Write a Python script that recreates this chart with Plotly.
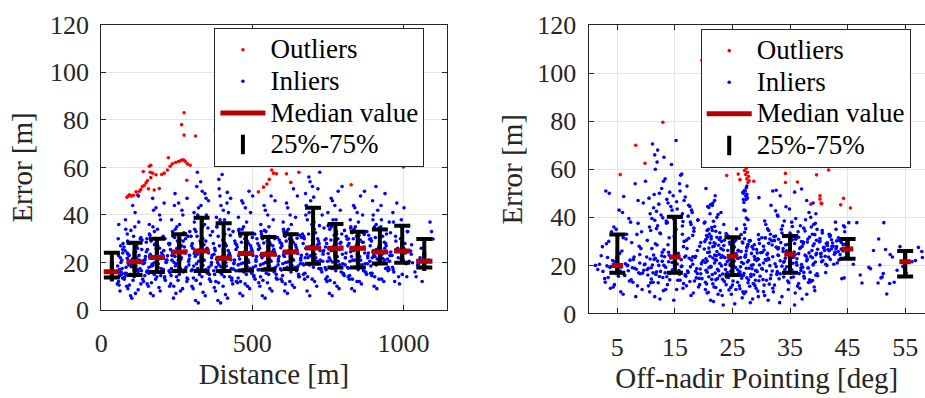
import plotly.graph_objects as go

# ---------------- data: left panel (error vs distance) ----------------
left_in_x = [
    62, 57, 70, 55, 66, 60, 68, 71, 64, 58,
    101, 113, 88, 131, 76, 144, 95, 119, 82, 138, 108, 125, 92, 79, 117, 98, 129, 86, 111, 80, 104, 123,
    172, 195, 156, 212, 184, 150, 206, 167, 189, 217, 161, 178, 200, 153, 187, 165, 202, 176, 159, 193, 181, 170,
    247, 269, 230, 286, 258, 224, 281, 241, 264, 292, 235, 252, 275, 227, 261, 238, 273, 250, 233, 267, 256, 244,
    321, 344, 304, 362, 333, 298, 356, 315, 339, 367, 310, 327, 350, 301, 336, 313, 342, 324, 307, 330, 347, 334, 329, 318,
    395, 418, 378, 435, 407, 372, 430, 389, 412, 441, 384, 401, 424, 375, 410, 387, 422, 398, 381, 404, 416, 393, 389, 400,
    468, 491, 451, 509, 480, 445, 503, 462, 486, 514, 457, 474, 497, 448, 483, 460, 495, 471, 454, 477, 465, 489,
    542, 565, 525, 582, 554, 519, 577, 536, 559, 588, 531, 548, 571, 522, 557, 534, 568, 545, 528, 551, 539, 562,
    616, 639, 599, 656, 628, 593, 651, 610, 633, 662, 605, 622, 645, 596, 631, 608, 642, 619, 602, 625, 613, 636,
    690, 713, 673, 730, 702, 667, 725, 684, 707, 736, 679, 696, 719, 670, 705, 682, 716, 693, 676, 699, 687, 710,
    764, 787, 747, 804, 776, 741, 799, 758, 781, 810, 753, 770, 793, 744, 779, 756, 790, 767, 750, 773, 761, 784,
    838, 861, 821, 878, 850, 815, 873, 832, 855, 884, 827, 844, 867, 818, 853, 830, 864, 841, 824, 847, 835, 858,
    912, 935, 895, 952, 924, 889, 947, 906, 929, 958, 901, 918, 941, 892, 921, 904, 927, 915, 898, 909,
    987, 1011, 968, 1030, 999, 962, 1024, 981, 1005, 974, 1017, 993, 965, 978,
    1062, 1038, 1078, 1047, 1070, 1055, 1098, 1088,
    59, 67, 54, 63, 71, 56,
    97, 122, 84, 140, 109, 78, 133, 115, 91, 127, 103, 146, 86, 120, 94, 135, 107, 81, 124, 112,
    163, 191, 152, 209, 175, 198, 158, 215, 183, 168, 204, 149, 193, 179, 211, 161, 186, 196, 173, 208,
    239, 262, 226, 283, 249, 272, 232, 290, 255, 244, 278, 229, 266, 252, 287, 236, 259, 270, 242, 284,
    312, 337, 300, 358, 325, 346, 306, 365, 331, 318, 352, 303, 340, 327, 361, 309, 334, 348, 322, 355, 343, 316,
    386, 411, 374, 432, 399, 420, 380, 439, 405, 392, 426, 377, 414, 402, 436, 383, 408, 421, 396, 428, 417, 390,
    459, 484, 447, 505, 472, 493, 453, 512, 478, 465, 499, 450, 487, 475, 508, 456, 481, 494, 469, 501,
    533, 558, 521, 579, 546, 567, 527, 586, 552, 539, 573, 524, 561, 549, 583, 530, 555, 569, 543, 575,
    607, 632, 595, 653, 620, 641, 601, 660, 626, 613, 647, 598, 635, 623, 657, 604, 629, 643, 617, 649,
    681, 706, 669, 727, 694, 715, 675, 734, 700, 687, 721, 672, 709, 697, 731, 678, 703, 717, 691, 723,
    755, 780, 743, 801, 768, 789, 749, 808, 774, 761, 795, 746, 783, 771, 805, 752, 777, 791, 765, 797,
    829, 854, 817, 875, 842, 863, 823, 882, 848, 835, 869, 820, 857, 845, 879, 826, 851, 865, 839, 871,
    903, 928, 891, 949, 916, 937, 897, 956, 922, 910, 943, 894, 931, 919, 953, 900, 926, 939,
    971, 996, 964, 1019, 983, 1007, 976, 1027, 990, 1013, 967, 1002,
    1042, 1066, 1051, 1084, 1059, 1093,
    105, 83, 128, 96, 141, 117, 89, 134, 110, 77, 122, 99, 145, 114, 87,
    180, 157, 203, 170, 214, 190, 162, 207, 176, 151, 197, 168, 219, 185, 159,
    254, 231, 276, 245, 289, 265, 237, 280, 250, 225, 271, 243, 293, 260, 234,
    328, 305, 351, 319, 364, 340, 311, 355, 326, 299, 346, 317, 368, 335, 308,
    403, 379, 425, 394, 437, 414, 385, 429, 400, 373, 420, 391, 442, 409, 382,
    476, 453, 498, 467, 511, 488, 458, 502, 473, 446, 494, 464, 515, 482, 455,
    550, 527, 572, 541, 585, 562, 532, 576, 547, 520, 568, 538, 589, 556, 529,
    624, 600, 646, 615, 659, 636, 606, 650, 621, 594, 642, 612, 663, 630, 603,
    698, 674, 720, 689, 733, 710, 680, 724, 695, 668, 716, 686, 737, 704, 677,
    772, 748, 794, 763, 807, 784, 754, 798, 769, 742, 790, 760, 811, 778, 751,
    846, 822, 868, 837, 881, 858, 828, 872, 843, 816, 864, 834, 885, 852, 825,
    919, 896, 941, 910, 954, 931, 902, 945, 916, 890, 937, 907, 957, 925, 899,
    984, 966, 1009, 992, 1026, 1001, 975, 1014,
    53, 61, 69, 65, 57, 72,
    93, 137, 80, 116, 102, 143, 86, 125, 109, 75, 131, 98,
    166, 210, 153, 188, 174, 216, 160, 199, 182, 149, 205, 171,
    240, 284, 227, 262, 248, 291, 234, 273, 256, 223, 279, 245,
    314, 358, 301, 336, 322, 365, 308, 347, 330, 297, 353, 319,
    388, 432, 375, 410, 396, 439, 382, 421, 404, 371, 427, 393,
    461, 505, 448, 483, 469, 512, 455, 494, 477, 444, 500, 466,
    535, 579, 522, 557, 543, 586, 529, 568, 551, 518, 574, 540,
    609, 653, 596, 631, 617, 660, 603, 642, 625, 592, 648, 614,
    683, 727, 670, 705, 691, 734, 677, 716, 699, 666, 722, 688,
    757, 801, 744, 779, 765, 808, 751, 790, 773, 740, 796, 762,
    831, 875, 818, 853, 839, 882, 825, 864, 847, 814, 870, 836,
    905, 949, 892, 927, 913, 956, 899, 938, 921, 888, 944, 910,
]
left_in_y = [
    8, 12, 13.5, 14, 16, 17, 21, 24, 27, 36,
    5, 7, 9, 11, 13, 14.5, 15, 17, 18, 19.5, 20.3, 21, 23, 25, 27, 28.3, 30, 32, 35, 38, 44, 48,
    6, 8, 10, 12.5, 14, 16, 17, 18.5, 19.5, 21, 22, 22.5, 24, 25.5, 27, 29, 30.5, 33, 36, 40, 43, 47,
    7, 9, 11, 13, 15, 16.5, 18, 20, 21.5, 23, 24.5, 25, 26.5, 28, 29.5, 31, 32.5, 35, 38, 42, 45, 49,
    3, 6, 9, 12, 14, 16.5, 18, 19.5, 21, 23, 24.5, 25, 26, 28, 30, 33, 36, 39, 41, 44, 47, 50, 54, 58,
    3, 5, 8, 11, 14, 16.5, 17.5, 19, 20, 21, 21.8, 22.5, 24, 26, 28, 31, 34, 36.5, 39, 42, 45, 48, 55, 57,
    6, 9, 11.5, 13, 15, 16.6, 18, 19.5, 21, 22.5, 23.8, 24.5, 26, 27.5, 29, 31, 32.2, 35, 39, 43, 46, 50,
    5, 8, 10, 13, 15, 16.9, 18, 19.5, 21, 22.5, 23.5, 24, 25.5, 27, 28.5, 30, 30.7, 33, 36, 40, 44, 48,
    7, 9.5, 12, 14, 16, 17.3, 18.5, 20, 21.5, 23, 24.4, 25, 26.5, 28, 29.5, 31, 31.9, 34, 37, 40, 45, 51,
    6, 10, 13, 16, 18, 19.5, 21, 22, 23.5, 25, 26.1, 27, 29, 31, 34, 38, 43, 46, 49, 52, 56, 61,
    6, 9, 12, 14.5, 16.5, 17.9, 19.5, 21, 22.5, 24, 26, 27, 28.5, 30, 32, 34, 36.2, 38, 41, 44, 47, 50,
    8, 11, 13, 15, 17, 17.9, 19.5, 21, 22.5, 24, 26, 27, 28.5, 30, 31.5, 32.5, 32.9, 35, 38, 41, 44, 48,
    9, 12, 14.5, 17, 19.6, 20.5, 21.5, 22.5, 23.5, 24.4, 25, 26.5, 28, 30, 33.9, 35, 38, 42, 46, 52,
    11, 14, 16, 19.9, 21, 23, 24.8, 26, 28, 31, 35.5, 38, 41, 45,
    12, 16, 17.9, 19, 20.5, 22, 29.9, 37,
    10.5, 15, 18.5, 22, 25.5, 30,
    6, 8.5, 10, 12, 14, 15.5, 16.5, 18.5, 19, 20, 21.5, 22.5, 24, 26, 28, 29.5, 31, 34, 37, 41,
    7, 9.5, 11, 13.5, 15, 17.5, 18, 20, 20.5, 22.5, 23, 24.5, 26, 28, 30, 31.5, 34, 38, 42, 45,
    5, 8, 10, 12, 14, 16, 17.5, 19, 21, 22.5, 24, 25.5, 27, 29, 31, 33, 36, 40, 44, 47,
    4, 7.5, 10, 13, 15, 17, 18.5, 20, 22, 23.5, 24.8, 26, 27.5, 29, 31.5, 34, 37.5, 40, 43, 46, 49, 52,
    4, 6.5, 9.5, 12.5, 15, 16.4, 18, 19.5, 20.5, 21.5, 23, 25, 27, 29.5, 33, 35, 38, 41, 44, 47, 49.5, 51,
    7, 10, 12, 14, 16, 17.5, 19, 20.5, 22, 23.5, 25, 26.5, 28, 30, 32, 34, 37, 41, 45, 48,
    6, 9, 11.5, 13.5, 15.5, 17.5, 19, 20.5, 22, 23, 24.5, 26, 27.5, 29, 30.5, 32, 35, 38, 42, 46,
    8, 10.5, 13, 15, 17, 18, 19.5, 21, 22.5, 24, 25.5, 27, 28.5, 30, 31.5, 33, 36, 39, 43, 48,
    8, 12, 15, 17.5, 19.5, 20.5, 22, 23.5, 25, 26.5, 28, 30, 32.5, 36, 40, 44, 47.5, 51, 54, 58,
    7, 10, 13, 15.5, 17.5, 19, 20.5, 22, 23.5, 25, 26.5, 28, 30, 31.5, 33.5, 35.5, 38, 42, 46, 52,
    9, 12, 14, 16, 17.9, 19, 20.5, 22, 23.5, 25, 26.5, 28, 29.5, 31, 33, 35, 37, 40, 43, 50,
    10, 13, 15.5, 18, 19.8, 21, 22, 23, 24.2, 25.5, 27, 29, 31, 34.5, 37, 40, 44, 49,
    12, 15, 18, 20.5, 22, 24, 25.5, 27.5, 30, 33, 37, 43,
    14, 18.5, 19.5, 21, 26, 33,
    12.5, 15.5, 17.5, 19, 20.8, 22, 23.5, 25.5, 27.5, 13.8, 16.2, 18.2, 21.2, 24.5, 29,
    13, 15.5, 17, 18.8, 20.2, 21.5, 23.5, 25, 27.5, 30, 14.5, 19.2, 22.8, 26.5, 32,
    12.5, 14.5, 17, 18.5, 20.5, 22, 23.5, 24.8, 26, 27.5, 29, 30.5, 33, 16, 21,
    11, 13.5, 15.5, 17.5, 19, 21, 22.5, 24, 25.5, 27, 29, 31, 33, 35, 37,
    10, 12, 14, 15.8, 17.2, 18.5, 20, 21.2, 22.2, 23.5, 25, 27, 29, 32, 35,
    11, 13.5, 15.5, 17, 18.5, 20, 21.5, 23, 24.2, 25.5, 27, 28.5, 30, 31.5, 33.5,
    11.5, 14, 16, 17.5, 19, 20.5, 22, 23.2, 24.2, 25.5, 27, 28.2, 29.5, 31, 33,
    12, 14.5, 16.5, 18, 19.5, 21, 22.5, 23.8, 25, 26.2, 27.5, 29, 30.5, 32, 34,
    13, 15.5, 17.5, 19, 20.5, 22, 23.5, 25, 26.5, 28, 30, 32, 34.5, 37, 40,
    11.5, 14, 16, 17.5, 19, 20.5, 22, 23.5, 25, 26.5, 28, 29.5, 31, 33, 35.5,
    12, 14.5, 16.5, 18, 19.5, 21, 22.5, 24, 25.5, 27, 28.5, 30, 31.5, 33, 34.5,
    13, 15.5, 17.5, 19, 20.5, 21.8, 23, 24.2, 25.5, 27, 28.5, 30.5, 32.5, 35, 38,
    14, 17, 19.5, 21.5, 23.5, 26, 29, 33,
    11, 14.5, 17.5, 20, 23, 28,
    10.5, 13, 15, 16.8, 18.5, 19.8, 21.8, 23, 24.8, 26.5, 30.5, 33.5,
    11.5, 14, 16.5, 18, 19.8, 21, 22.5, 24, 26, 28.5, 31, 35,
    10, 13.5, 15.8, 17.5, 19.5, 21.5, 23, 24.5, 26.2, 28, 30, 34,
    12.5, 15, 17, 18.8, 20.5, 22, 23.8, 25.5, 28, 31, 34.5, 40,
    11.5, 13.5, 15, 16.8, 18.2, 19.8, 21.4, 23, 25.5, 28, 31.5, 38,
    12, 14.5, 16.5, 18.2, 19.8, 21.2, 22.8, 24.5, 26.2, 28, 30.5, 34,
    12.5, 15, 17, 18.5, 20, 21.5, 23, 24.7, 26.3, 28, 30, 33.5,
    11, 14, 16.8, 18.8, 20.2, 21.8, 23.2, 24.8, 26.6, 28.4, 30.2, 33,
    14, 17, 19, 21, 22.8, 24.5, 26, 27.5, 29.5, 32, 35.5, 41,
    12.5, 15, 17, 18.6, 20.2, 22, 23.8, 25.5, 27.2, 29.5, 32, 35,
    13, 15.8, 17.6, 19.2, 21, 22.8, 24.5, 26.2, 28, 29.8, 31.8, 34,
    14, 16.5, 18.5, 20, 21.5, 23, 24.5, 26, 27.8, 29.8, 32, 36,
]
left_out_x = [85, 90, 93, 100, 106, 115, 120, 126, 131, 136, 142, 148, 153, 156, 159,
              162, 164, 170, 164, 139, 175, 181, 192, 200, 208, 219, 222, 228, 235, 246,
              255, 262, 268, 274, 278, 285, 294, 283, 274, 266, 274, 312, 378, 520, 537,
              548, 556, 564, 570, 580, 613, 627, 654, 827, 1000]
left_out_y = [47.5, 48, 48.5, 48, 48.3, 49.8, 48.5, 50, 50.7, 52, 52.4, 53.5, 54.4, 51, 60.5,
              58, 55.7, 57.6, 60.9, 58.3, 50.5, 56.9, 51.1, 57, 57.6, 58.9, 64.1, 60.5, 61.5, 62.1,
              62.5, 62.8, 63.2, 63, 62.5, 61.5, 60.9, 54.6, 83, 78, 73.6, 73.2, 76.1, 49.7, 51.7,
              53, 55, 58.9, 57.6, 57.3, 57.3, 53.7, 58, 52.7, 60.2]
left_bins = [35, 110, 184, 258, 332, 405, 479, 553, 627, 701, 775, 849, 922, 996, 1069]
left_q25 = [13.7, 14.7, 16.0, 16.4, 16.4, 16.4, 16.6, 16.9, 17.3, 19.5, 17.9, 17.9, 19.6, 19.9, 17.9]
left_med = [16.1, 20.3, 22.1, 24.4, 24.8, 21.8, 23.8, 23.5, 24.4, 26.1, 26.0, 26.0, 24.4, 24.8, 20.5]
left_q75 = [24.1, 28.3, 30.0, 31.9, 38.8, 36.5, 32.2, 30.7, 31.9, 43.0, 36.2, 32.9, 33.9, 35.5, 29.9]

# ---------------- data: right panel (error vs off-nadir) ----------------
right_in_x = [
    8.2, 5.6, 9.3, 4.5, 7.1, 3.4, 6.2, 8.7, 2.5, 9.6, 5.1, 7.6, 3.9, 1.2, 6.8, 1.9, 8.9, 4.2, 7.9, 5.4,
    9.1, 3.1, 6.5, 8.4, 4.8, 7.3, 5.9, 9.5, 3.6, 8.1,
    12.4, 17.8, 10.6, 15.3, 19.1, 13.7, 16.5, 11.2, 18.4, 14.1, 19.7, 12.9, 16.9, 10.3, 15.8, 18.9, 13.3,
    11.8, 17.2, 14.6, 19.4, 10.9, 16.1, 12.2, 18.1, 15.1, 13.9, 19.9, 11.4, 17.5, 14.3, 16.7, 10.1, 18.6, 12.7,
    15.6, 13.1, 19.3, 11.6, 17.0, 14.9, 16.3, 10.8, 18.3, 12.0, 15.0, 17.7, 13.5, 19.0, 11.0, 16.0, 14.4,
    12.6, 18.0, 15.4, 11.3, 17.4, 13.8, 16.6, 10.5, 14.7, 12.3, 15.9, 17.1, 13.0, 16.2, 11.9, 11.5, 11.1, 15.2,
    23.4, 28.1, 21.2, 26.7, 29.5, 24.8, 20.6, 27.3, 22.9, 25.6, 29.1, 21.8, 26.2, 23.9, 28.6, 20.3, 25.1, 27.8,
    22.4, 24.3, 29.8, 26.9,
    21.5, 27.0, 24.1, 29.3, 22.6, 25.9, 28.4, 20.9, 26.4, 23.1, 29.7, 24.6, 21.9, 27.6, 25.3, 22.2, 28.9, 20.4,
    26.0, 23.7, 27.2, 24.9, 21.1,
    25.7, 22.7, 28.3, 20.7, 26.5, 24.2, 29.2, 23.0, 27.5, 21.6, 25.2, 28.8, 22.0, 26.8, 24.5, 20.2, 27.9, 23.6,
    29.6, 21.3, 25.5, 26.1, 22.3,
    20.5, 21.0, 22.1, 20.8, 21.4, 27.1, 20.1, 21.7, 27.4, 22.5, 27.2, 20.9, 21.2, 27.0, 26.9, 27.6, 27.3, 27.5,
    26.8, 27.1, 27.4, 21.9,
    35.8, 31.2, 33.6, 37.9, 30.4, 34.7, 39.2, 32.3, 36.5, 38.6, 30.9, 33.1, 35.2, 37.4, 31.7, 39.7, 34.1,
    32.8, 36.9, 30.2, 38.1, 34.4, 31.5, 37.0, 35.5, 39.4, 33.3, 30.7, 36.2, 38.9, 32.0, 34.9, 37.6, 31.0, 35.9,
    38.3, 33.8, 30.5, 36.7, 32.6, 39.0, 34.5, 31.3, 37.3, 35.1, 39.6, 33.0, 36.0, 30.1, 38.4, 32.2, 34.3,
    31.6, 36.4, 33.5, 38.7, 30.8, 35.3, 37.7, 32.9, 39.5, 32.5, 34.3, 39.0, 29.6, 32.6, 32.0, 37.0, 34.0, 36.8,
    47.5, 44.4, 41.2, 48.7, 42.6, 40.5, 43.8,
    41.7, 44.9, 40.3, 42.9, 43.4, 41.0, 44.1, 42.2,
    40.8, 43.1, 41.5, 44.6, 42.4, 40.1, 43.6, 45.8,
    41.9, 40.6, 43.0, 44.3, 45.2, 46.6, 49.5,
    51.8, 50.3, 53.1, 50.8, 51.2, 54.6, 56.2, 58.0, 52.4, 51.6, 57.3, 51.3,
    6.0, 3.8, 8.5, 2.9, 7.4, 5.2, 9.0, 4.1, 6.9, 1.6, 8.0, 5.7, 3.2, 9.7, 6.4, 4.6, 7.8, 2.2, 5.0, 8.8,
    3.5, 6.6, 9.2, 4.4, 7.0, 5.3, 8.6, 3.0, 6.1, 9.9,
    14.8, 11.5, 18.2, 13.0, 16.4, 10.4, 19.3, 12.1, 17.6, 15.5, 10.9, 18.7, 13.6, 16.8, 11.7, 19.5, 14.2,
    17.3, 12.5, 15.7, 10.2, 18.8, 13.4, 16.2, 11.1, 19.6, 14.5, 12.8, 17.9, 10.7, 15.1, 18.5, 13.2, 16.9, 11.3,
    13.9, 17.1, 11.9, 16.6, 14.0, 18.1, 12.4, 15.2, 10.6, 17.8, 13.7, 16.4, 11.5, 14.8, 12.9, 15.7, 17.3,
    16.3, 11.8, 14.5, 17.6, 12.2, 15.3, 13.6, 16.8, 11.4, 14.1, 12.7, 15.8, 13.3, 16.0, 11.6, 14.4, 13.1, 12.0,
    25.4, 21.7, 28.5, 23.2, 27.0, 20.8, 29.4, 24.4, 26.3, 22.1, 28.0, 25.0, 20.5, 27.7, 23.6, 29.0, 21.4, 26.6,
    24.0, 28.2, 22.8, 25.8,
    28.7, 23.3, 26.1, 20.6, 24.7, 29.1, 22.4, 27.4, 25.5, 21.2, 28.3, 23.8, 26.9, 20.3, 24.1, 27.8, 22.0, 29.5,
    25.9, 21.6, 26.4, 23.5, 28.8,
    22.2, 27.3, 24.9, 29.3, 21.0, 26.0, 23.4, 28.6, 20.9, 25.3, 27.6, 22.6, 24.6, 29.7, 21.8, 26.7, 23.1, 28.1,
    25.6, 20.4, 27.1, 24.3, 22.9,
    21.3, 26.5, 22.8, 20.6, 27.3, 21.9, 23.5, 20.2, 27.7, 22.3, 21.1, 27.0, 20.7, 21.6, 27.4, 22.0, 26.9, 27.2,
    20.4, 27.5, 21.5, 23.0,
    33.2, 37.1, 30.6, 35.9, 39.3, 32.0, 36.3, 31.4, 38.2, 34.6, 30.3, 37.5, 33.9, 39.8, 32.7, 36.6, 35.0,
    38.5, 31.9, 35.3, 30.1, 37.2, 33.6, 39.0, 32.4, 36.1, 34.0, 30.9, 38.0, 31.2, 35.6, 37.8, 33.0, 39.5, 34.7,
    31.1, 35.7, 38.8, 32.9, 36.8, 30.4, 34.2, 39.2, 33.4, 37.0, 31.8, 35.4, 38.1, 30.7, 36.5, 34.8, 32.5,
    35.0, 31.3, 37.4, 33.7, 39.4, 30.6, 36.0, 32.8, 38.3, 34.9, 31.7, 37.9, 33.3, 35.8, 39.7, 38.9, 39.1, 38.6,
    44.0, 47.2, 49.0, 41.4, 43.2, 40.7, 42.0, 44.6, 41.1, 43.7, 40.4, 42.8, 44.2, 41.6, 43.0, 40.9, 42.5, 44.8,
    41.3, 43.9, 40.2, 42.2, 43.4, 41.8, 40.6, 44.5, 42.9, 46.0,
    52.3, 51.0, 55.2, 53.6, 50.6, 56.8, 52.8, 57.9, 54.1, 50.4,
    4.3, 7.7, 2.8, 6.3, 9.4, 5.5, 8.3, 3.7, 6.7, 9.8, 4.9, 7.2, 3.3, 8.9, 5.8, 2.4, 7.5, 6.0, 4.0, 8.6,
    13.4, 17.0, 10.8, 15.9, 19.2, 12.3, 16.8, 11.2, 18.6, 14.6, 10.4, 17.7, 13.1, 15.4, 19.7, 12.0, 16.1, 11.6, 18.1, 14.0,
    15.2, 12.8, 18.9, 11.0, 16.5, 13.8, 19.5, 10.2, 17.4, 14.9, 12.5, 18.3, 11.8, 16.3, 13.5, 19.0, 15.6, 10.7, 17.9, 14.3,
    22.5, 26.8, 20.3, 24.7, 28.9, 21.6, 25.9, 29.6, 23.3, 27.5, 20.9, 24.0, 28.2, 22.0, 26.3, 29.0, 23.8, 27.9, 21.3, 25.1,
    28.6, 22.8, 26.6, 20.6, 24.4, 29.3, 23.0, 27.2, 21.9, 25.6, 29.9, 22.3, 26.0, 20.1, 24.9, 28.4, 23.5, 27.7, 21.1, 25.3,
    28.0, 22.7, 26.2, 20.7, 24.2, 29.5, 23.9, 27.1, 21.5, 25.7, 28.8, 22.1, 26.5, 20.4, 24.6, 29.2, 23.2, 27.4, 21.8, 25.0,
    32.1, 36.7, 30.5, 34.8, 38.9, 31.6, 35.6, 39.5, 33.3, 37.4, 30.9, 34.1, 38.2, 32.6, 36.2, 39.1, 33.9, 37.9, 31.3, 35.2,
    38.6, 32.9, 36.5, 30.2, 34.4, 39.8, 33.0, 37.1, 31.9, 35.8, 38.0, 32.3, 36.0, 30.7, 34.6, 39.3, 33.6, 37.6, 31.1, 35.4,
    38.4, 32.8, 36.9, 30.4, 34.2, 39.6, 33.8, 37.3, 31.5, 35.1,
    41.2, 43.5, 40.4, 42.7, 44.8, 41.8, 43.9, 40.9, 42.3, 44.2, 41.5, 43.1, 40.2, 42.0, 44.5,
]
right_in_y = [
    7, 9, 10, 12, 13.5, 15, 16, 16.9, 17.5, 18, 18.5, 19, 19.5, 20, 20, 20.5, 21, 22, 23.5, 25,
    27, 29, 31, 32.9, 35, 38, 42, 46, 50, 54,
    6, 7.5, 9, 10, 11, 12, 12.5, 13, 13.5, 14, 14.5, 15, 15.5, 16, 16.3, 16.6, 16.9,
    17.3, 17.7, 18, 18.5, 19, 19.5, 20, 20.5, 21, 21.5, 22, 22.5, 23, 23.2, 23.5, 23.5, 23.8, 24,
    25, 26.5, 28, 29, 30.5, 32, 33, 34.5, 35.5, 36.5, 37.5, 38, 38.5, 39, 39.5, 40, 40.3,
    41, 42, 43.5, 44, 45, 46, 47, 48, 49, 50, 51, 53, 55, 58, 63, 66, 70.5, 72,
    3.5, 4.5, 5.5, 6.5, 7, 8, 8.5, 9, 9.5, 10, 10.5, 11, 11.5, 12, 12.5, 13, 13.5, 14,
    14.5, 15, 15.5, 15.8,
    16.2, 16.6, 17, 17.4, 17.8, 18.2, 18.6, 19, 19.4, 19.8, 20.2, 20.6, 21, 21.4, 21.8, 22.2, 22.5, 22.8,
    23, 23.2, 23.4, 23.6, 23.8,
    24.2, 24.6, 25, 25.4, 25.8, 26.2, 26.6, 27, 27.4, 27.8, 28.2, 28.6, 29, 29.3, 29.6, 29.9, 30.2, 30.5,
    30.8, 31, 31.2, 31.5, 31.7,
    32.4, 33.1, 34.2, 35, 35.8, 36.9, 37.6, 38.4, 39.7, 41.2, 42.8, 44.1, 45.3, 46.2, 47.4, 48.1, 48.9, 49.6,
    50.4, 51.2, 52.3, 47.0,
    3.5, 5.5, 7, 8, 9, 10, 11, 11.8, 12.5, 13.2, 13.8, 14.4, 15, 15.5, 16, 16.5, 16.9,
    17.4, 17.9, 18.4, 18.9, 19.4, 19.9, 20.4, 20.9, 21.4, 21.9, 22.4, 22.8, 23.2, 23.6, 24, 24.3, 24.5, 24.6,
    25.2, 25.8, 26.4, 27, 27.6, 28.2, 28.7, 29.2, 29.7, 30.1, 30.5, 30.9, 31.2, 31.5, 31.8, 32, 32.2,
    33, 34, 35, 36, 37, 38, 39, 40.5, 41.5, 42.7, 44.4, 46, 48.2, 51.3, 51, 51.8, 38.5, 36.5,
    12.7, 14.8, 17, 19.2, 20.5, 21.5, 22.8,
    23.5, 24.2, 24.8, 25.3, 25.8, 26.2, 26.5, 26.8,
    27.3, 27.8, 28.3, 28.8, 29.3, 29.8, 30.4, 31.0,
    32, 33.5, 35, 36.5, 37.8, 37.8, 26.2,
    8.1, 12.7, 13, 14.8, 16.6, 19.5, 21.5, 23.3, 24.5, 26.6, 27.5, 37.8,
    8, 10.5, 11.5, 13, 14, 15.5, 16.5, 17, 17.8, 18.3, 18.8, 19.3, 19.8, 20.3, 20.7, 21.5, 22.5, 24, 26, 28,
    30, 33, 34, 36, 39.5, 43, 47, 51, 48.7, 55,
    5.5, 7, 8.5, 9.5, 10.5, 11.5, 12, 12.8, 13.3, 13.8, 14.3, 14.8, 15.3, 15.8, 16.2, 16.5, 16.8,
    17.1, 17.5, 17.9, 18.3, 18.7, 19.2, 19.7, 20.2, 20.7, 21.2, 21.7, 22.2, 22.7, 23.0, 23.3, 23.6, 23.9, 24.3,
    25.5, 27, 28.5, 30, 31.5, 32.5, 33.5, 35, 36, 37, 37.8, 38.3, 38.8, 39.3, 39.8, 40.2, 40.5,
    41.5, 42.5, 43, 44.5, 45.5, 46.5, 47.5, 48.5, 49.5, 50.5, 52, 54, 56, 57.5, 60, 62, 65, 68,
    4, 5, 6, 7.5, 8.2, 8.8, 9.3, 9.8, 10.3, 10.8, 11.3, 11.8, 12.3, 12.8, 13.3, 13.8, 14.2, 14.7,
    15.1, 15.4, 15.7, 15.9,
    16.1, 16.4, 16.8, 17.2, 17.6, 18, 18.4, 18.8, 19.2, 19.6, 20, 20.4, 20.8, 21.2, 21.6, 22, 22.3, 22.6,
    22.9, 23.1, 23.3, 23.5, 23.7,
    24, 24.4, 24.8, 25.2, 25.6, 26, 26.4, 26.8, 27.2, 27.6, 28, 28.4, 28.8, 29.1, 29.4, 29.7, 30, 30.3,
    30.6, 30.9, 31.1, 31.4, 31.6,
    32, 32.8, 33.6, 34.5, 35.3, 36.2, 37, 38, 39, 40, 41.5, 43, 44.5, 46, 47.5, 49, 50, 51,
    52, 53, 45, 42,
    4.5, 6, 7.5, 8.5, 9.5, 10.5, 11.4, 12.2, 12.9, 13.5, 14.1, 14.7, 15.2, 15.7, 16.2, 16.6, 16.8,
    17.2, 17.7, 18.2, 18.7, 19.2, 19.7, 20.2, 20.7, 21.2, 21.7, 22.1, 22.6, 23.0, 23.4, 23.8, 24.1, 24.4, 24.6,
    25, 25.6, 26.2, 26.8, 27.4, 28, 28.5, 29, 29.5, 29.9, 30.3, 30.7, 31, 31.4, 31.7, 32, 32.2,
    33.5, 34.5, 35.5, 36.5, 37.5, 38.5, 39.5, 41, 42, 43.5, 45, 47, 49, 50.5, 35, 33, 37, 40,
    14.5, 16, 18.6, 20, 21, 22, 22.5, 23.2, 23.8, 24.5, 25, 25.6, 26, 26.6, 27, 27.5, 28, 28.6,
    29.1, 29.6, 30.1, 30.7, 31.5, 33, 34.5, 36, 38, 20.5,
    12.5, 15.2, 16.8, 18, 20.2, 22, 23.5, 25.8, 27.8, 31,
    11, 13, 14.5, 15.8, 16.8, 17.6, 18.4, 19.2, 19.9, 20.6, 21.3, 22.2, 23.3, 24.5, 26, 27.8, 29.5, 31.5, 34, 37.5,
    10, 11.5, 12.8, 13.8, 14.6, 15.4, 16.2, 16.9, 17.6, 18.2, 18.8, 19.4, 20, 20.6, 21.2, 21.8, 22.4, 23, 23.6, 24.2,
    24.8, 25.5, 26.2, 27, 27.8, 28.6, 29.5, 30.4, 31.3, 32.2, 33.2, 34.2, 35.3, 36.4, 37.6, 38.8, 40, 41.5, 43, 44.5,
    8, 9, 10, 10.8, 11.6, 12.3, 13, 13.6, 14.2, 14.8, 15.3, 15.8, 16.3, 16.8, 17.3, 17.8, 18.3, 18.8, 19.3, 19.8,
    20.3, 20.8, 21.3, 21.8, 22.3, 22.8, 23.3, 23.8, 24.3, 24.8, 25.3, 25.8, 26.3, 26.8, 27.3, 27.8, 28.3, 28.8, 29.3, 29.8,
    30.3, 30.8, 31.3, 31.8, 32.3, 32.8, 33.3, 33.8, 34.5, 35.2, 12.0, 14.0, 16.0, 18.0, 20.0, 22.0, 24.0, 26.0, 28.0, 30.0,
    9, 10.5, 11.8, 12.8, 13.7, 14.5, 15.2, 15.9, 16.5, 17.1, 17.7, 18.3, 18.9, 19.5, 20.1, 20.7, 21.3, 21.9, 22.5, 23.1,
    23.7, 24.3, 24.9, 25.5, 26.1, 26.7, 27.3, 27.9, 28.5, 29.1, 29.7, 30.3, 30.9, 31.5, 32.1, 32.8, 33.5, 34.3, 35.2, 36.2,
    14.0, 16.8, 19.0, 21.0, 23.0, 25.0, 27.0, 29.0, 31.0, 33.0,
    20.5, 22.3, 23.6, 24.6, 25.4, 26.1, 26.8, 27.4, 28, 28.7, 29.4, 30.2, 31.2, 32.5, 34,
]
right_out_x = [19.7, 12.9, 8.2, 9.8, 5.5, 24, 26, 26.3, 26.8, 27, 27.2, 27.4, 27.1, 27.6, 27.3,
               27.8, 27.5, 27.9, 27.7, 27.2, 27.6, 28.6, 28.8, 28.7, 34.1, 34.2, 34.2, 36.3, 39.6,
               41.7, 40.2, 40.2, 40.4, 40.5, 38.6, 43.8, 44.3, 45.5]
right_out_y = [105.4, 79.6, 70, 62.5, 57.8, 57.4, 58, 55.7, 64, 62.9, 61.5, 60.5, 59.5, 58.8, 57.8,
               57, 56, 55.2, 54.5, 63.5, 61.8, 62, 61.2, 55, 63.1, 58.3, 54.5, 54.7, 57.7,
               59.7, 49, 47.6, 46, 45.7, 45.5, 45.2, 47.9, 43.9]
right_bins = [5, 15, 25, 35, 45, 55]
right_q25 = [16.9, 16.9, 16.0, 16.9, 22.8, 15.4]
right_med = [20.0, 23.5, 23.8, 24.6, 26.8, 21.5]
right_q75 = [32.9, 40.3, 31.7, 32.2, 31.0, 26.0]

legend_names = ["Outliers", "Inliers", "Median value", "25%-75%"]

# ---------------- styling ----------------
W, H = 925, 398
FONT = "Liberation Serif, Tinos, Times New Roman, DejaVu Serif, serif"
AX = "#262626"
GRID = "#e4e4e4"
RED = "#ff0000"
BLUE = "#0000ff"
MED_C = "#b40000"
LEG_TXT = 27
MS = 3.6


def big(t):
    return '<span style="font-size:%dpx">%s</span>' % (LEG_TXT, t)


def med_segments(xs, ys, hw):
    X, Y = [], []
    for x, y in zip(xs, ys):
        X += [x - hw, x + hw, None]
        Y += [y, y, None]
    return X, Y


fig = go.Figure()


def add_panel(xa, ya, leg, in_x, in_y, out_x, out_y, bins, q25, med, q75, hw):
    fig.add_trace(go.Scatter(x=out_x, y=out_y, mode="markers", name=big(legend_names[0]),
                             marker=dict(color=RED, size=MS), xaxis=xa, yaxis=ya,
                             legend=leg, legendrank=1))
    fig.add_trace(go.Scatter(x=in_x, y=in_y, mode="markers", name=big(legend_names[1]),
                             marker=dict(color=BLUE, size=MS), xaxis=xa, yaxis=ya,
                             legend=leg, legendrank=2))
    fig.add_trace(go.Scatter(
        x=bins, y=med, mode="markers", name=big(legend_names[3]),
        marker=dict(symbol="line-ns", size=14, color="black", line=dict(width=4, color="black")),
        error_y=dict(type="data", symmetric=False,
                     array=[b - m for b, m in zip(q75, med)],
                     arrayminus=[m - a for a, m in zip(q25, med)],
                     thickness=4, width=8, color="black"),
        xaxis=xa, yaxis=ya, legend=leg, legendrank=4))
    mx, my = med_segments(bins, med, hw)
    fig.add_trace(go.Scatter(x=mx, y=my, mode="lines", name=big(legend_names[2]),
                             line=dict(color=MED_C, width=5), xaxis=xa, yaxis=ya,
                             legend=leg, legendrank=3, connectgaps=False))


add_panel("x", "y", "legend", left_in_x, left_in_y, left_out_x, left_out_y,
          left_bins, left_q25, left_med, left_q75, 27)
add_panel("x2", "y2", "legend2", right_in_x, right_in_y, right_out_x, right_out_y,
          right_bins, right_q25, right_med, right_q75, 1.0)

axis_common = dict(
    showline=True, linecolor=AX, linewidth=1, ticks="inside", ticklen=5, tickcolor=AX,
    showgrid=True, gridcolor=GRID, gridwidth=1, zeroline=False, ticklabeloverflow="allow",
    tickfont=dict(family=FONT, size=26, color=AX),
)
title_font = dict(family=FONT, size=29, color=AX)

legend_common = dict(
    xanchor="left", yanchor="top", bgcolor="white", bordercolor=AX, borderwidth=1,
    font=dict(family=FONT, size=22, color="black"), itemwidth=45, tracegroupgap=0,
)

fig.update_layout(
    width=W, height=H, margin=dict(l=0, r=0, t=0, b=0),
    paper_bgcolor="white", plot_bgcolor="white",
    xaxis=dict(domain=[95 / W, 443 / W], range=[0, 1143], tickvals=[0, 500, 1000],
               anchor="y", mirror="ticks", ticklabelstandoff=10,
               title=dict(text="Distance [m]", font=title_font, standoff=4), **axis_common),
    yaxis=dict(domain=[1 - 319.3 / H, 1 - 11.7 / H], range=[0, 120], dtick=20,
               anchor="x", mirror="ticks", ticklabelstandoff=6,
               title=dict(text="Error [m]", font=title_font, standoff=8), **axis_common),
    xaxis2=dict(domain=[586 / W, 1.0], range=[0, 58.45], tickvals=[5, 15, 25, 35, 45, 55],
                anchor="y2", mirror="ticks", ticklabelstandoff=10,
                title=dict(text="Off-nadir Pointing [deg]", font=title_font, standoff=4), **axis_common),
    yaxis2=dict(domain=[1 - 323 / H, 1 - 12 / H], range=[0, 120], dtick=20,
                anchor="x2", mirror=False, ticklabelstandoff=6,
                title=dict(text="Error [m]", font=title_font, standoff=6), **axis_common),
    legend=dict(x=209 / W, y=1 - 15 / H, **legend_common),
    legend2=dict(x=699 / W, y=1 - 16 / H, **legend_common),
)

fig.write_html("out.html")
